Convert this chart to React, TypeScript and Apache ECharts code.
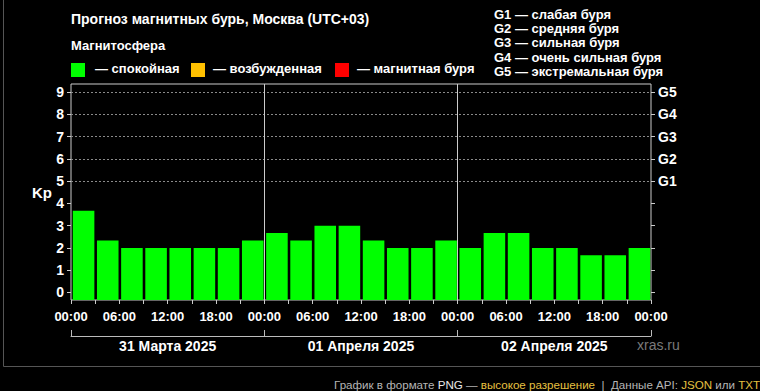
import React, { useEffect, useRef } from "react";
import * as echarts from "echarts";

const kpValues: number[] = [
  3.67, 2.33, 2, 2, 2, 2, 2, 2.33,
  2.67, 2.33, 3, 3, 2.33, 2, 2, 2.33,
  2, 2.67, 2.67, 2, 2, 1.67, 1.67, 2,
];
const slotHours = 3;
const dayLabels: string[] = ["31 Марта 2025", "01 Апреля 2025", "02 Апреля 2025"];
const kpTicks: number[] = [0, 1, 2, 3, 4, 5, 6, 7, 8, 9];
const gLevels: number[] = [5, 6, 7, 8, 9];
const gNames: string[] = ["G1", "G2", "G3", "G4", "G5"];
const gLegend: string[] = [
  "G1 — слабая буря",
  "G2 — средняя буря",
  "G3 — сильная буря",
  "G4 — очень сильная буря",
  "G5 — экстремальная буря",
];
const dayBoundaries: number[] = [24, 48];

const Y_MIN = -0.34;
const Y_MAX = 9.37;
const FONT = "'Liberation Sans', Arial, sans-serif";

const GREEN = "#00ff00";
const ORANGE = "#ffc000";
const RED = "#ff0000";

function kpColor(v: number) {
  if (v >= 5) return RED;
  if (v >= 4) return ORANGE;
  return GREEN;
}

export default function App() {
  const ref = useRef<HTMLDivElement>(null);
  useEffect(() => {
    if (!ref.current) return;
    const chart = echarts.init(ref.current, undefined, { renderer: "svg" });
    const data = kpValues.map((v, i) => [i * slotHours + slotHours / 2, v]);
    const option: any = {
      animation: false,
      backgroundColor: "#000",
      textStyle: { fontFamily: FONT },
      grid: {
        left: 71,
        right: 109,
        top: 84,
        bottom: 91,
        show: true,
        borderColor: "#cccccc",
        borderWidth: 1,
        backgroundColor: "transparent",
      },
      xAxis: [
        {
          type: "value",
          min: 0,
          max: 72,
          interval: 3,
          axisLine: { show: false, onZero: false },
          axisTick: { show: true, length: 4, lineStyle: { color: "#cccccc" } },
          splitLine: { show: false },
          axisLabel: {
            show: true,
            showMinLabel: true,
            showMaxLabel: true,
            color: "#fff",
            fontSize: 13,
            fontWeight: "bold",
            fontFamily: FONT,
            margin: 10,
            formatter: (v: number) => {
              if (v % 6 !== 0) return "";
              const h = v % 24;
              return (h < 10 ? "0" + h : "" + h) + ":00";
            },
          },
        },
        {
          type: "category",
          data: dayLabels,
          position: "bottom",
          offset: 36,
          boundaryGap: true,
          axisLine: { show: true, onZero: false, lineStyle: { color: "#bbbbbb", width: 1 } },
          axisTick: { show: true, inside: true, length: 6, lineStyle: { color: "#bbbbbb" } },
          axisLabel: {
            color: "#fff",
            fontSize: 14,
            fontWeight: "bold",
            fontFamily: FONT,
            margin: 3,
          },
          splitLine: { show: false },
        },
      ],
      yAxis: [
        {
          type: "value",
          min: Y_MIN,
          max: Y_MAX,
          position: "left",
          axisLine: { show: false },
          splitLine: { show: false },
          axisTick: {
            show: true,
            length: 4,
            customValues: kpTicks,
            lineStyle: { color: "#cccccc" },
          },
          axisLabel: {
            customValues: kpTicks,
            color: "#fff",
            fontSize: 14,
            fontWeight: "bold",
            fontFamily: FONT,
            margin: 7,
          },
        },
        {
          type: "value",
          min: Y_MIN,
          max: Y_MAX,
          position: "right",
          axisLine: { show: false },
          splitLine: { show: false },
          axisTick: {
            show: true,
            length: 4,
            customValues: kpTicks,
            lineStyle: { color: "#cccccc" },
          },
          axisLabel: {
            customValues: gLevels,
            color: "#fff",
            fontSize: 14,
            fontWeight: "bold",
            fontFamily: FONT,
            margin: 7,
            formatter: (v: number) => {
              const idx = gLevels.indexOf(Math.round(v));
              return idx >= 0 ? gNames[idx] : "";
            },
          },
        },
      ],
      series: [
        {
          type: "line",
          data: [],
          silent: true,
          xAxisIndex: 0,
          yAxisIndex: 0,
          markLine: {
            silent: true,
            symbol: "none",
            label: { show: false },
            animation: false,
            data: [
              ...gLevels.map((g) => ({
                yAxis: g,
                lineStyle: { color: "#8a8a8a", type: [2, 2], width: 1 },
              })),
              ...dayBoundaries.map((d) => ({
                xAxis: d,
                lineStyle: { color: "#cccccc", type: "solid", width: 1 },
              })),
            ],
          },
        },
        {
          type: "custom",
          xAxisIndex: 0,
          yAxisIndex: 0,
          data,
          encode: { x: 0, y: 1 },
          z: 3,
          renderItem: (params: any, api: any) => {
            const x = api.value(0);
            const v = api.value(1);
            const top = api.coord([x, v]);
            const bottom = api.coord([x, Y_MIN]);
            const w = api.size([slotHours, 0])[0] - 2.6;
            return {
              type: "rect",
              shape: {
                x: top[0] - w / 2 + 0.5,
                y: top[1],
                width: w,
                height: bottom[1] - top[1],
              },
              style: { fill: kpColor(v) },
            };
          },
        },
      ],
      graphic: [
        {
          type: "polyline",
          silent: true,
          shape: { points: [[3.5, 0], [3.5, 366.5], [760, 366.5]] },
          style: { stroke: "#555", lineWidth: 1, fill: null },
        },
        {
          type: "text",
          left: 71,
          top: 12,
          style: {
            text: "Прогноз магнитных бурь, Москва (UTC+03)",
            fill: "#fff",
            font: `bold 14px ${FONT}`,
          },
        },
        {
          type: "text",
          left: 71,
          top: 39,
          style: { text: "Магнитосфера", fill: "#fff", font: `bold 13px ${FONT}` },
        },
        { type: "rect", shape: { x: 71, y: 63, width: 14, height: 14 }, style: { fill: GREEN } },
        {
          type: "text",
          left: 95,
          top: 62,
          style: { text: "— спокойная", fill: "#fff", font: `bold 13px ${FONT}` },
        },
        { type: "rect", shape: { x: 191, y: 63, width: 14, height: 14 }, style: { fill: ORANGE } },
        {
          type: "text",
          left: 213,
          top: 62,
          style: { text: "— возбужденная", fill: "#fff", font: `bold 13px ${FONT}` },
        },
        { type: "rect", shape: { x: 335, y: 63, width: 14, height: 14 }, style: { fill: RED } },
        {
          type: "text",
          left: 357,
          top: 62,
          style: { text: "— магнитная буря", fill: "#fff", font: `bold 13px ${FONT}` },
        },
        ...gLegend.map((t, i) => ({
          type: "text",
          left: 494,
          top: 8 + i * 14.2,
          style: { text: t, fill: "#fff", font: `bold 13px ${FONT}` },
        })),
        {
          type: "text",
          left: 32,
          top: 185,
          style: { text: "Kp", fill: "#fff", font: `bold 15px ${FONT}` },
        },
        {
          type: "text",
          left: 637,
          top: 338,
          style: { text: "xras.ru", fill: "#7a7a7a", font: `14px ${FONT}` },
        },
        {
          type: "text",
          left: 334,
          top: 378,
          style: {
            text:
              "{g|График в формате }{w|PNG}{g| — }{y|высокое разрешение}{g|  |  Данные API: }{y|JSON}{g| или }{y|TXT}",
            font: `11.6px ${FONT}`,
            rich: {
              g: { fill: "#b5b5b5", font: `11.6px ${FONT}` },
              w: { fill: "#e8e8e8", font: `11.6px ${FONT}` },
              y: { fill: "#e6c040", font: `11.6px ${FONT}` },
            },
          },
        },
      ],
    };
    chart.setOption(option);
    return () => chart.dispose();
  }, []);
  return (
    <div
      ref={ref}
      style={{ position: "absolute", left: 0, top: 0, width: 760, height: 391, background: "#000" }}
    />
  );
}
